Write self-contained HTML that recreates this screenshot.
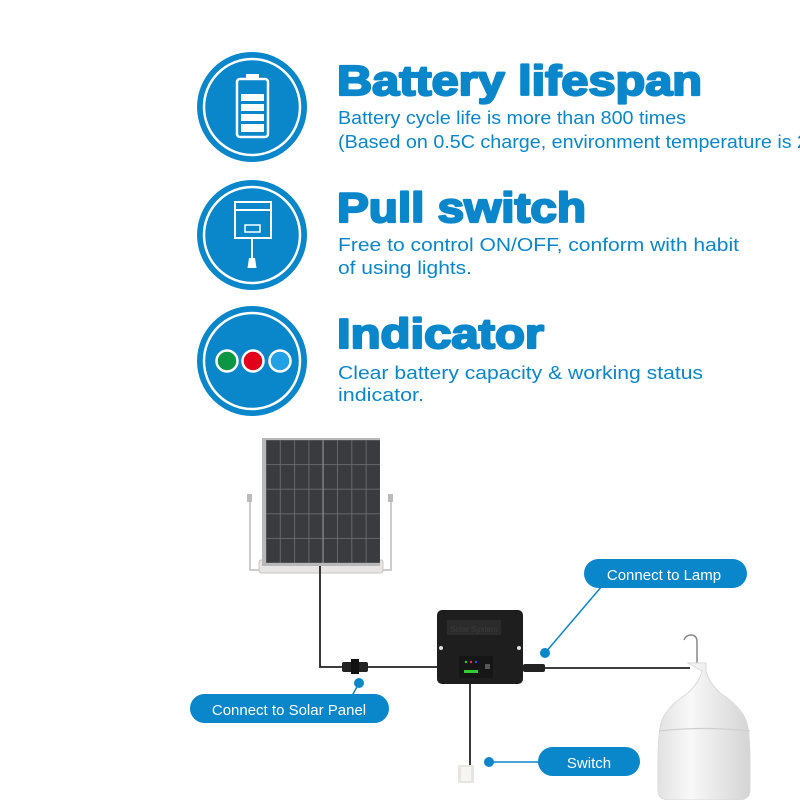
<!DOCTYPE html>
<html><head><meta charset="utf-8"><style>
html,body{margin:0;padding:0;background:#fff;}
svg{display:block;}
text{font-family:"Liberation Sans",sans-serif;}
</style></head><body>
<svg width="800" height="800" viewBox="0 0 800 800" xmlns="http://www.w3.org/2000/svg">
<defs>
<pattern id="cells" width="14.3" height="24.6" patternUnits="userSpaceOnUse" x="266" y="440">
<rect width="14.3" height="24.6" fill="#3a3b3e"/>
<rect x="0" y="0" width="14.3" height="24.6" fill="none" stroke="#6f7174" stroke-width="0.8"/>
</pattern>
<linearGradient id="bulb" x1="0" x2="1"><stop offset="0" stop-color="#e2e2e2"/><stop offset="0.35" stop-color="#f8f8f8"/><stop offset="1" stop-color="#d4d4d4"/></linearGradient>
</defs>
<g fill="#0a86cb">
<circle cx="252" cy="107" r="55"/>
<circle cx="252" cy="235" r="55"/>
<circle cx="252" cy="361" r="55"/>
</g>
<g fill="none" stroke="#fff" stroke-width="2.5">
<circle cx="252" cy="107" r="48"/>
<circle cx="252" cy="235" r="48"/>
<circle cx="252" cy="361" r="48"/>
</g>
<g fill="none" stroke="#fff" stroke-width="2.5">
<rect x="237" y="79" width="31" height="58" rx="3"/>
</g>
<rect x="246" y="74" width="13" height="5" fill="#fff"/>
<g fill="#fff"><rect x="241" y="94" width="23" height="7"/><rect x="241" y="104" width="23" height="7"/><rect x="241" y="114" width="23" height="7"/><rect x="241" y="124" width="23" height="8"/></g>
<g fill="none" stroke="#fff" stroke-width="2">
<rect x="235" y="202" width="36" height="36"/>
<line x1="235" y1="210" x2="271" y2="210"/>
<rect x="245" y="225" width="15" height="7" stroke-width="1.5"/>
<line x1="252" y1="238" x2="252" y2="258"/>
</g>
<path d="M249 258h6l1.5 10h-9z" fill="#fff"/>
<circle cx="227" cy="361" r="10.5" fill="#0a9643" stroke="#fff" stroke-width="2.5"/>
<circle cx="253" cy="361" r="10.5" fill="#e2001a" stroke="#fff" stroke-width="2.5"/>
<circle cx="280" cy="361" r="10.5" fill="#22a0e4" stroke="#fff" stroke-width="2.5"/>
<g fill="#0a86cb" stroke="#0a86cb" stroke-width="2.2" stroke-linejoin="round">
<text x="337" y="95" font-size="42" font-weight="bold" textLength="365" lengthAdjust="spacingAndGlyphs">Battery lifespan</text>
<text x="337" y="222" font-size="42" font-weight="bold" textLength="249" lengthAdjust="spacingAndGlyphs">Pull switch</text>
<text x="337" y="348" font-size="42" font-weight="bold" textLength="207" lengthAdjust="spacingAndGlyphs">Indicator</text>
</g>
<g fill="#0a86cb">
<text x="338" y="124" font-size="18" textLength="348" lengthAdjust="spacingAndGlyphs">Battery cycle life is more than 800 times</text>
<text x="338" y="148" font-size="18" textLength="470" lengthAdjust="spacingAndGlyphs">(Based on 0.5C charge, environment temperature is 2</text>
<text x="338" y="251" font-size="18" textLength="401" lengthAdjust="spacingAndGlyphs">Free to control ON/OFF, conform with habit</text>
<text x="338" y="274" font-size="18" textLength="134" lengthAdjust="spacingAndGlyphs">of using lights.</text>
<text x="338" y="379" font-size="18" textLength="365" lengthAdjust="spacingAndGlyphs">Clear battery capacity &amp; working status</text>
<text x="338" y="401" font-size="18" textLength="86" lengthAdjust="spacingAndGlyphs">indicator.</text>
</g>
<rect x="247" y="494" width="5" height="8" fill="#bbb"/>
<rect x="388" y="494" width="5" height="8" fill="#bbb"/>
<path d="M250 502 V570 H391 V502" fill="none" stroke="#ccc" stroke-width="2"/>
<rect x="259" y="560" width="124" height="13" rx="2" fill="#e8e4e4" stroke="#c9c4c4"/>
<rect x="262" y="438" width="118" height="128" fill="#b8b8b8"/>
<rect x="266" y="440" width="114" height="123" fill="url(#cells)"/>
<line x1="323" y1="440" x2="323" y2="563" stroke="#8a8a8a" stroke-width="1.2"/>
<g fill="none" stroke="#222" stroke-width="1.8">
<path d="M320 566 V667 H437"/>
<line x1="470" y1="683" x2="470" y2="770"/>
<line x1="523" y1="668" x2="690" y2="668"/>
</g>
<rect x="342" y="662" width="26" height="10" rx="2" fill="#222"/>
<rect x="351" y="659" width="8" height="15" fill="#111"/>
<rect x="458" y="765" width="16" height="18" fill="#e8e4e0"/>
<rect x="461" y="767" width="10" height="14" fill="#f7f5f2"/>
<rect x="437" y="610" width="86" height="74" rx="5" fill="#1e1e1e"/>
<rect x="447" y="620" width="54" height="15" fill="#2b2b2b"/>
<text x="474" y="632" font-size="8" fill="#3c3c3c" text-anchor="middle">Solar System</text>
<circle cx="441" cy="648" r="2" fill="#ddd"/><circle cx="519" cy="648" r="2" fill="#ddd"/>
<rect x="459" y="656" width="34" height="22" fill="#161616"/>
<circle cx="466" cy="662" r="1.2" fill="#3c3"/><circle cx="471" cy="662" r="1.2" fill="#e33"/><circle cx="476" cy="662" r="1.2" fill="#34f"/>
<rect x="464" y="670" width="14" height="3" fill="#3c3"/>
<rect x="485" y="664" width="5" height="5" fill="#555"/>
<rect x="523" y="664" width="22" height="8" rx="2" fill="#222"/>
<!-- bulb -->
<path d="M697 666 V642 q0 -7 -6 -7 q-5 0 -7 5" fill="none" stroke="#888" stroke-width="1.5"/>
<path d="M688 663 h18 v8 q2 10 14 22 q22 14 27 30 q3 12 3 40 v27 q0 10 -12 10 h-68 q-12 0 -12 -10 v-27 q0 -28 3 -40 q5 -16 27 -30 q12 -12 14 -22 z" fill="url(#bulb)" stroke="#dadada"/>
<path d="M659 731 q45 -5 91 0" fill="none" stroke="#d0d0d0" stroke-width="1.2"/>
<g fill="#0a86cb">
<rect x="190" y="694" width="199" height="29" rx="14.5"/>
<rect x="584" y="559" width="163" height="29" rx="14.5"/>
<rect x="538" y="747" width="102" height="29" rx="14.5"/>
<circle cx="359" cy="683" r="5"/>
<circle cx="489" cy="762" r="5"/>
<circle cx="545" cy="653" r="5"/>
</g>
<g stroke="#0a86cb" stroke-width="1.5" fill="none">
<line x1="359" y1="683" x2="352" y2="696"/>
<line x1="489" y1="762" x2="540" y2="762"/>
<line x1="545" y1="653" x2="602" y2="586"/>
</g>
<g fill="#fff" font-size="15">
<text x="289" y="715" text-anchor="middle">Connect to Solar Panel</text>
<text x="664" y="580" text-anchor="middle">Connect to Lamp</text>
<text x="589" y="768" text-anchor="middle">Switch</text>
</g>
</svg>
</body></html>
